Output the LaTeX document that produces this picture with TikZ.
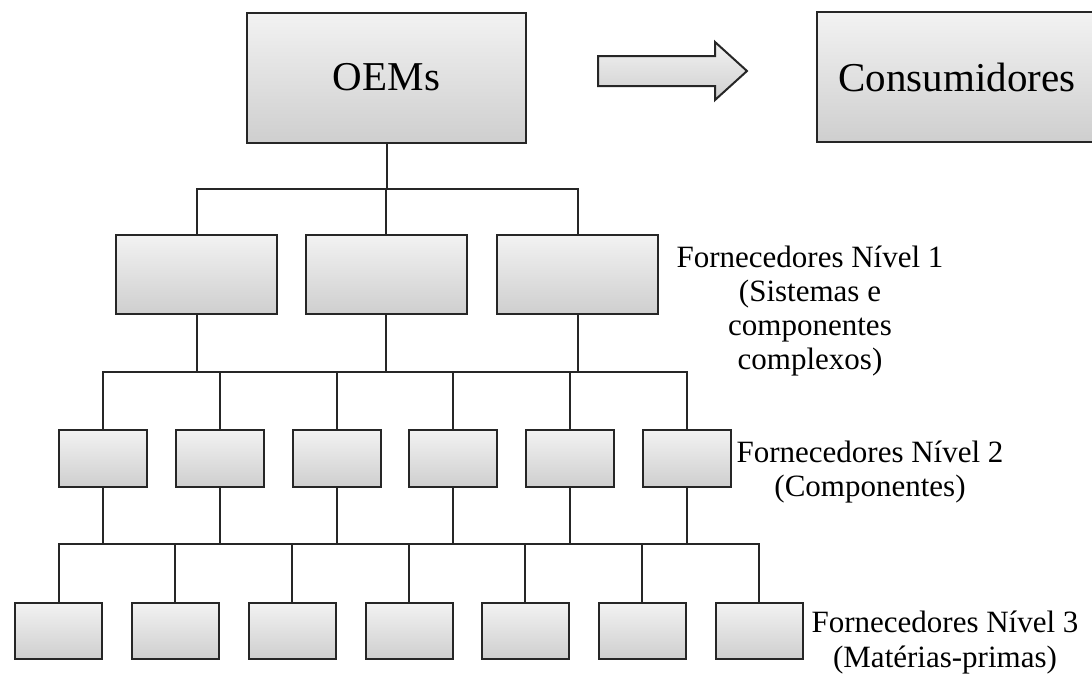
\documentclass[tikz,border=0pt]{standalone}
\usepackage{fontspec}
\setmainfont{Liberation Serif}
\begin{document}
\begin{tikzpicture}[x=1pt,y=-1pt,
  box/.style={draw=black!85, line width=2pt, top color=gray!10, bottom color=gray!38, inner sep=0pt},
  big/.style={box, minimum width=279pt, minimum height=130pt, font=\fontsize{41}{44}\selectfont},
  l1box/.style={box, minimum width=161pt, minimum height=79pt},
  l2box/.style={box, minimum width=88pt, minimum height=57pt},
  l3box/.style={box, minimum width=87pt, minimum height=56pt},
  conn/.style={draw=black!85, line width=2pt},
  lab/.style={align=center, inner sep=0pt, font=\fontsize{31}{34}\selectfont}]
\useasboundingbox (0,0) rectangle (1092,675);
\clip (0,0) rectangle (1092,675);

% top row
\node[big] (oem) at (386.5,77.5) {OEMs};
\node[big, minimum width=320pt] (cons) at (977,77) {};
\node[inner sep=0pt, font=\fontsize{41}{44}\selectfont] (constext) at (957,77) {Consumidores};
\path[draw=black!85, line width=2pt, top color=gray!10, bottom color=gray!38]
  (598,56) -- (715,56) -- (715,42) -- (747,71) -- (715,100) -- (715,86) -- (598,86) -- cycle;

% level 1
\node[l1box] (a1) at (196.5,274.5) {};
\node[l1box] (a2) at (386,274.5) {};
\node[l1box] (a3) at (577.5,274.5) {};

% level 2
\foreach \i/\x in {1/103,2/220,3/337,4/453,5/570,6/687}
  \node[l2box] (b\i) at (\x,458.5) {};

% level 3
\foreach \i/\x in {1/58.5,2/175,3/292,4/409,5/525,6/642,7/759}
  \node[l3box] (c\i) at (\x,631) {};

% buses
\coordinate (bus1) at (0,189);
\coordinate (bus2) at (0,372);
\coordinate (bus3) at (0,544);

% OEM -> level 1
\draw[conn] (oem.south) -- (oem.south |- bus1);
\draw[conn] (a1.north) -- (a1.north |- bus1) -- (a3.north |- bus1) -- (a3.north);
\draw[conn] (a2.north) -- (a2.north |- bus1);

% level 1 -> level 2
\foreach \i in {1,2,3} \draw[conn] (a\i.south) -- (a\i.south |- bus2);
\draw[conn] (b1.north) -- (b1.north |- bus2) -- (b6.north |- bus2) -- (b6.north);
\foreach \i in {2,3,4,5} \draw[conn] (b\i.north) -- (b\i.north |- bus2);

% level 2 -> level 3
\foreach \i in {1,...,6} \draw[conn] (b\i.south) -- (b\i.south |- bus3);
\draw[conn] (c1.north) -- (c1.north |- bus3) -- (c7.north |- bus3) -- (c7.north);
\foreach \i in {2,...,6} \draw[conn] (c\i.north) -- (c\i.north |- bus3);

% labels
\node[lab] (lab1) at (810,311) {Fornecedores Nível 1\\(Sistemas e\\componentes\\complexos)};
\node[lab] (lab2) at (870,472) {Fornecedores Nível 2\\(Componentes)};
\node[lab, font=\fontsize{31}{35}\selectfont] (lab3) at (945,643) {Fornecedores Nível 3\\(Matérias-primas)};
\end{tikzpicture}
\end{document}
